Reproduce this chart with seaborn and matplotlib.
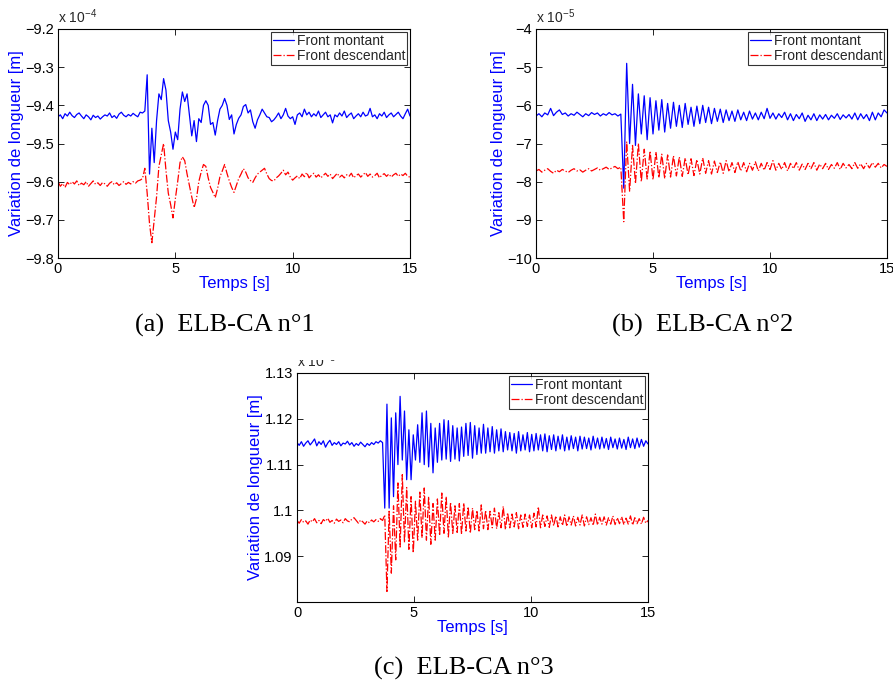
import numpy as np
import pandas as pd
import seaborn as sns
import matplotlib.pyplot as plt
from matplotlib.ticker import FixedLocator, FixedFormatter
from matplotlib.transforms import Bbox, TransformedBbox

sns.set_style("ticks")
plt.rcParams['font.family'] = ['Liberation Sans', 'DejaVu Sans']
plt.rcParams['mathtext.fontset'] = 'custom'
plt.rcParams['mathtext.rm'] = 'Liberation Sans'
plt.rcParams['mathtext.it'] = 'Liberation Sans:italic'

# ---- ELB-CA n°1 (values in 1e-4 m), one sample every 0.1 s ----
a_montant = [
    -9.430, -9.425, -9.435, -9.422, -9.428, -9.418, -9.427, -9.432, -9.424, -9.420,
    -9.428, -9.435, -9.425, -9.430, -9.438, -9.426, -9.432, -9.428, -9.436, -9.430,
    -9.425, -9.428, -9.420, -9.432, -9.427, -9.434, -9.423, -9.418, -9.426, -9.430,
    -9.424, -9.428, -9.421, -9.426, -9.430, -9.418, -9.420,
    -9.415, -9.320, -9.580, -9.460, -9.550, -9.440, -9.370, -9.385, -9.330, -9.360,
    -9.440, -9.470, -9.515, -9.470, -9.490, -9.410, -9.365, -9.390, -9.370, -9.425,
    -9.480, -9.440, -9.495, -9.435, -9.445, -9.400, -9.388, -9.400, -9.450, -9.445,
    -9.478, -9.440, -9.410, -9.400, -9.382, -9.400, -9.437, -9.425, -9.475, -9.450,
    -9.434, -9.425, -9.403, -9.398, -9.420, -9.412, -9.443, -9.460, -9.438, -9.425,
    -9.410, -9.420, -9.430, -9.432, -9.443, -9.438,
    -9.430, -9.420, -9.435, -9.425, -9.408, -9.428, -9.435, -9.430, -9.450, -9.425,
    -9.420, -9.430, -9.410, -9.425, -9.418, -9.430, -9.422, -9.428, -9.415, -9.432,
    -9.425, -9.418, -9.430, -9.425, -9.446, -9.425, -9.430, -9.420, -9.428, -9.415,
    -9.432, -9.425, -9.420, -9.435, -9.428, -9.422, -9.430, -9.418, -9.428, -9.425,
    -9.408, -9.430, -9.425, -9.435, -9.422, -9.428, -9.418, -9.432, -9.425, -9.420,
    -9.430, -9.424, -9.418, -9.428, -9.435, -9.422, -9.410, -9.428,
]
a_descendant = [
    -9.600, -9.612, -9.605, -9.615, -9.602, -9.608, -9.600, -9.606, -9.598, -9.610,
    -9.604, -9.608, -9.600, -9.612, -9.605, -9.598, -9.607, -9.603, -9.610, -9.602,
    -9.606, -9.612, -9.604, -9.600, -9.608, -9.603, -9.610, -9.605, -9.600, -9.607,
    -9.602, -9.606, -9.600, -9.604, -9.598, -9.596,
    -9.592, -9.565, -9.630, -9.710, -9.760, -9.700, -9.640, -9.560, -9.530, -9.500,
    -9.570, -9.630, -9.660, -9.695, -9.645, -9.600, -9.550, -9.535, -9.545, -9.580,
    -9.610, -9.640, -9.668, -9.645, -9.600, -9.575, -9.555, -9.560, -9.590, -9.615,
    -9.628, -9.642, -9.618, -9.587, -9.572, -9.555, -9.578, -9.598, -9.615, -9.628,
    -9.610, -9.592, -9.580, -9.566, -9.575, -9.590, -9.597, -9.602, -9.590, -9.580,
    -9.575, -9.570, -9.565, -9.580, -9.592, -9.597, -9.598,
    -9.590, -9.585, -9.578, -9.570, -9.582, -9.575, -9.588, -9.596, -9.590, -9.585,
    -9.592, -9.580, -9.587, -9.576, -9.590, -9.583, -9.578, -9.588, -9.582, -9.590,
    -9.584, -9.578, -9.586, -9.580, -9.592, -9.585, -9.578, -9.588, -9.583, -9.590,
    -9.582, -9.586, -9.578, -9.590, -9.584, -9.580, -9.588, -9.582, -9.576, -9.586,
    -9.580, -9.588, -9.584, -9.578, -9.590, -9.583, -9.579, -9.586, -9.580, -9.588,
    -9.582, -9.578, -9.586, -9.580, -9.584, -9.578, -9.586, -9.588,
]

# ---- ELB-CA n°2 (values in 1e-5 m), one sample every 0.125 s ----
b_montant = [
    -6.28, -6.22, -6.30, -6.20, -6.25, -6.08, -6.27, -6.18, -6.12, -6.24,
    -6.20, -6.28, -6.22, -6.26, -6.18, -6.24, -6.30, -6.22, -6.27, -6.19,
    -6.24, -6.20, -6.28, -6.22, -6.26, -6.19, -6.25, -6.22, -6.28, -6.23,
    -8.17, -4.90, -7.00, -5.45, -7.05, -5.70, -6.75, -5.75, -6.90, -5.80,
    -6.75, -5.88, -6.65, -5.85, -6.70, -5.95, -6.60, -5.92, -6.55, -6.00,
    -6.58, -5.95, -6.50, -6.05, -6.55, -6.02, -6.48, -6.00, -6.45, -6.05,
    -6.48, -6.08, -6.42, -6.10, -6.45, -6.12, -6.40, -6.15, -6.42, -6.12,
    -6.38, -6.18, -6.40, -6.15, -6.36, -6.20, -6.38, -6.18, -6.35, -6.08,
    -6.34, -6.20, -6.36, -6.22, -6.32, -6.18, -6.38, -6.22, -6.40, -6.24,
    -6.35, -6.20, -6.42, -6.26, -6.38, -6.22, -6.40, -6.25, -6.36, -6.24,
    -6.38, -6.26, -6.34, -6.22, -6.37, -6.25, -6.33, -6.24, -6.36, -6.20,
    -6.38, -6.22, -6.35, -6.24, -6.40, -6.18, -6.38, -6.20, -6.30, -6.12,
    -6.20,
]
b_descendant = [
    -7.72, -7.68, -7.75, -7.70, -7.66, -7.73, -7.78, -7.70, -7.74, -7.68,
    -7.72, -7.76, -7.70, -7.66, -7.72, -7.69, -7.75, -7.70, -7.66, -7.72,
    -7.68, -7.64, -7.70, -7.66, -7.62, -7.68, -7.64, -7.60, -7.66, -7.62,
    -9.05, -6.95, -8.25, -7.05, -8.05, -7.00, -8.00, -7.15, -7.93, -7.20,
    -7.95, -7.22, -7.90, -7.28, -7.92, -7.30, -7.88, -7.32, -7.85, -7.35,
    -7.86, -7.38, -7.82, -7.40, -7.84, -7.42, -7.80, -7.38, -7.78, -7.45,
    -7.80, -7.46, -7.76, -7.48, -7.78, -7.45, -7.74, -7.50, -7.76, -7.48,
    -7.72, -7.50, -7.74, -7.52, -7.70, -7.48, -7.72, -7.52, -7.70, -7.50,
    -7.68, -7.45, -7.70, -7.52, -7.68, -7.50, -7.72, -7.52, -7.66, -7.50,
    -7.70, -7.54, -7.68, -7.52, -7.66, -7.50, -7.70, -7.54, -7.66, -7.52,
    -7.68, -7.55, -7.65, -7.50, -7.68, -7.52, -7.64, -7.55, -7.66, -7.50,
    -7.65, -7.53, -7.66, -7.52, -7.64, -7.50, -7.62, -7.52, -7.64, -7.55,
    -7.60,
]

# ---- ELB-CA n°3 (values in 1e-3 m), one sample every 0.09375 s ----
c_montant = [
    1.1148, 1.1142, 1.1150, 1.1140, 1.1147, 1.1152, 1.1143, 1.1149, 1.1156, 1.1141,
    1.1150, 1.1144, 1.1152, 1.1138, 1.1147, 1.1153, 1.1142, 1.1148, 1.1144, 1.1150,
    1.1141, 1.1147, 1.1145, 1.1151, 1.1143, 1.1148, 1.1140, 1.1146, 1.1142, 1.1149,
    1.1144, 1.1139, 1.1146, 1.1142, 1.1148, 1.1144, 1.1150, 1.1147, 1.1152, 1.1148,
    1.1005, 1.1232, 1.1005, 1.1202, 1.1030, 1.1213, 1.1100, 1.1249, 1.1110, 1.1217,
    1.1067, 1.1176, 1.1067, 1.1165, 1.1110, 1.1187, 1.1105, 1.1213, 1.1100, 1.1217,
    1.1095, 1.1190, 1.1082, 1.1180, 1.1105, 1.1190, 1.1110, 1.1198, 1.1112, 1.1196,
    1.1107, 1.1185, 1.1112, 1.1180, 1.1108, 1.1182, 1.1118, 1.1190, 1.1120, 1.1192,
    1.1114, 1.1185, 1.1122, 1.1180, 1.1125, 1.1188, 1.1125, 1.1180, 1.1128, 1.1183,
    1.1125, 1.1176, 1.1130, 1.1178, 1.1128, 1.1172, 1.1132, 1.1170, 1.1130, 1.1168,
    1.1125, 1.1172, 1.1130, 1.1165, 1.1132, 1.1170, 1.1128, 1.1166, 1.1130, 1.1168,
    1.1132, 1.1165, 1.1130, 1.1167, 1.1128, 1.1163, 1.1133, 1.1165, 1.1130, 1.1162,
    1.1134, 1.1165, 1.1130, 1.1160, 1.1132, 1.1163, 1.1135, 1.1160, 1.1130, 1.1162,
    1.1134, 1.1160, 1.1135, 1.1158, 1.1132, 1.1162, 1.1136, 1.1158, 1.1134, 1.1160,
    1.1136, 1.1157, 1.1133, 1.1160, 1.1137, 1.1156, 1.1134, 1.1158, 1.1136, 1.1155,
    1.1133, 1.1160, 1.1137, 1.1156, 1.1135, 1.1158, 1.1138, 1.1155, 1.1140, 1.1152,
    1.1145,
]
c_descendant = [
    1.0978, 1.0972, 1.0980, 1.0974, 1.0977, 1.0970, 1.0979, 1.0975, 1.0982, 1.0973,
    1.0978, 1.0971, 1.0980, 1.0976, 1.0983, 1.0974, 1.0978, 1.0972, 1.0981, 1.0976,
    1.0979, 1.0973, 1.0982, 1.0977, 1.0975, 1.0981, 1.0984, 1.0978, 1.0972, 1.0979,
    1.0975, 1.0970, 1.0977, 1.0973, 1.0979, 1.0975, 1.0980, 1.0976, 1.0982, 1.0978,
    1.0990, 1.0823, 1.0998, 1.0863, 1.1010, 1.0892, 1.1060, 1.0920, 1.1078, 1.0930,
    1.1050, 1.0915, 1.1030, 1.0907, 1.1020, 1.0935, 1.1040, 1.0940, 1.1049, 1.0935,
    1.1030, 1.0926, 1.1015, 1.0935, 1.1025, 1.0945, 1.1038, 1.0950, 1.1030, 1.0942,
    1.1018, 1.0950, 1.1010, 1.0952, 1.1015, 1.0948, 1.1016, 1.0955, 1.1008, 1.0950,
    1.1005, 1.0958, 1.1000, 1.0955, 1.1012, 1.0960, 1.1000, 1.0958, 1.0998, 1.0962,
    1.1005, 1.0960, 1.0995, 1.0962, 1.1009, 1.0958, 1.0995, 1.0962, 1.0992, 1.0964,
    1.0995, 1.0960, 1.0990, 1.0963, 1.0992, 1.0965, 1.0990, 1.0962, 1.0994, 1.0964,
    1.1008, 1.0962, 1.0990, 1.0965, 1.0988, 1.0963, 1.0990, 1.0966, 1.0988, 1.0964,
    1.0986, 1.0967, 1.0990, 1.0965, 1.0986, 1.0968, 1.0988, 1.0966, 1.0985, 1.0968,
    1.0990, 1.0966, 1.0986, 1.0969, 1.0984, 1.0967, 1.0992, 1.0968, 1.0985, 1.0970,
    1.0986, 1.0968, 1.0984, 1.0970, 1.0988, 1.0969, 1.0984, 1.0971, 1.0986, 1.0969,
    1.0983, 1.0970, 1.0988, 1.0968, 1.0984, 1.0971, 1.0982, 1.0970, 1.0985, 1.0972,
    1.0978,
]

x_ticks = [0, 5, 10, 15]
a_yticks = [-9.8, -9.7, -9.6, -9.5, -9.4, -9.3, -9.2]
b_yticks = [-10, -9, -8, -7, -6, -5, -4]
c_yticks = [1.09, 1.10, 1.11, 1.12, 1.13]
c_ylabels = ["1.09", "1.1", "1.11", "1.12", "1.13"]
labels = ["Front montant", "Front descendant"]

W, H = 893, 682
fig = plt.figure(figsize=(W / 100, H / 100), dpi=100)


def make_frame(montant, descendant):
    t1 = np.linspace(0, 15, len(montant))
    t2 = np.linspace(0, 15, len(descendant))
    return (pd.DataFrame({"t": t1, "v": montant}),
            pd.DataFrame({"t": t2, "v": descendant}))


def draw_panel(rect, montant, descendant, ylim, yticks, ylabels, expo,
               caption, cap_x, cap_y, clip_top=None):
    ax = fig.add_axes([rect[0] / W, 1 - rect[3] / H,
                       (rect[2] - rect[0]) / W, (rect[3] - rect[1]) / H])
    up, dn = make_frame(montant, descendant)
    sns.lineplot(data=up, x="t", y="v", ax=ax, color="#0000ff", lw=0.9,
                 estimator=None, sort=False, label=labels[0])
    sns.lineplot(data=dn, x="t", y="v", ax=ax, color="#ff0000", lw=0.9,
                 linestyle="-.", estimator=None, sort=False, label=labels[1])
    ax.set_xlim(0, 15)
    ax.set_ylim(*ylim)
    ax.xaxis.set_major_locator(FixedLocator(x_ticks))
    ax.xaxis.set_major_formatter(FixedFormatter([str(v) for v in x_ticks]))
    ax.yaxis.set_major_locator(FixedLocator(yticks))
    ax.yaxis.set_major_formatter(FixedFormatter(
        [s.replace("-", "\u2212") for s in ylabels]))
    ax.tick_params(direction="in", length=4, width=0.6, top=True, right=True,
                   labelsize=10.5, pad=3, colors="black")
    for s in ax.spines.values():
        s.set_linewidth(0.8)
        s.set_color("black")
    ax.set_xlabel("Temps [s]", color="#0000ff", fontsize=12, labelpad=0)
    ax.set_ylabel("Variation de longueur [m]", color="#0000ff", fontsize=12,
                  labelpad=1)
    leg = ax.legend(loc="upper right", fontsize=10, frameon=True, fancybox=False,
                    borderaxespad=0.2, borderpad=0.15, labelspacing=0.05,
                    handlelength=1.5, handletextpad=0.2)
    leg.get_frame().set_edgecolor("black")
    leg.get_frame().set_linewidth(0.8)
    off = ax.text(0, 1.012, "x 10$^{" + expo + "}$", transform=ax.transAxes,
                  ha="left", va="bottom", fontsize=10)
    if clip_top is not None:
        box = TransformedBbox(Bbox([[0, 0], [1, 1 - clip_top / H]]),
                              fig.transFigure)
        off.set_clip_box(box)
        off.set_clip_on(True)
    fig.text(cap_x / W, 1 - cap_y / H, caption, ha="center", va="baseline",
             family=["Liberation Serif", "DejaVu Serif"], fontsize=19,
             color="black")
    return ax


draw_panel((58, 29, 410, 258), a_montant, a_descendant, (-9.8, -9.2),
           a_yticks, ["%g" % v for v in a_yticks], "-4",
           "(a)  ELB-CA n\u00b01", 225, 332)
draw_panel((536, 29, 887, 258), b_montant, b_descendant, (-10, -4),
           b_yticks, ["%g" % v for v in b_yticks], "-5",
           "(b)  ELB-CA n\u00b02", 703, 332)
draw_panel((297, 373, 648, 602), c_montant, c_descendant, (1.08, 1.13),
           c_yticks, c_ylabels, "-3",
           "(c)  ELB-CA n\u00b03", 464, 675, clip_top=360)

fig.savefig("out.png", dpi=100)
